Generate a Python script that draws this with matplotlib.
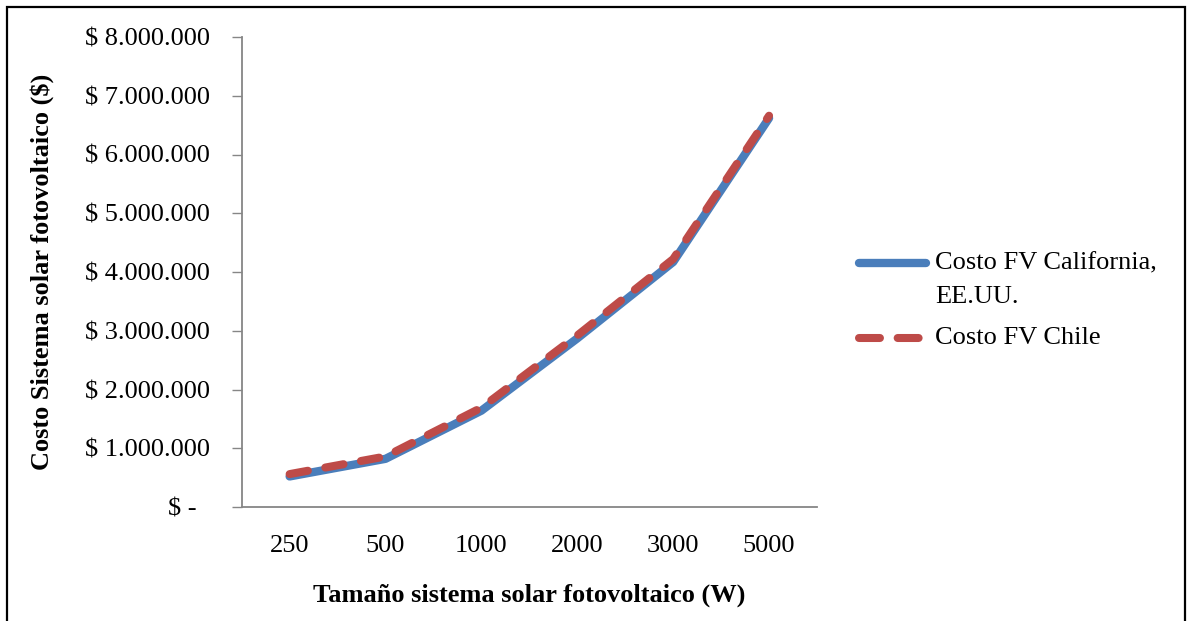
import numpy as np
import matplotlib.pyplot as plt
from matplotlib.lines import Line2D
from matplotlib.patches import Rectangle
from matplotlib.ticker import FuncFormatter

plt.rcParams['font.family'] = ['Liberation Serif', 'DejaVu Serif']

# system sizes (W) and cost of the PV system
sizes = ['250', '500', '1000', '2000', '3000', '5000']
costo_california = [520000, 820000, 1640000, 2870000, 4170000, 6620000]
costo_chile = [560000, 860000, 1690000, 2920000, 4220000, 6660000]
serie_labels = ['Costo FV California,\nEE.UU.', 'Costo FV Chile']

blue = '#4A7EBB'
red = '#BE4B48'
gray = '#868686'
fs = 19

W, H = 1188, 621
fig = plt.figure(figsize=(W / 100, H / 100), dpi=100)
ax = fig.add_axes([241.7 / W, 1 - 507 / H, 575.3 / W, 470 / H])

x = np.arange(len(sizes))
ax.plot(x, costo_california, color=blue, lw=6, solid_capstyle='round',
        solid_joinstyle='round')
ax.plot(x, costo_chile, color=red, lw=5.8, dashes=(2.3, 2.2),
        dash_capstyle='round', dash_joinstyle='round')

ax.set_xlim(-0.5, len(sizes) - 0.5)
ax.set_ylim(0, 8000000)
ax.set_yticks(np.arange(0, 8000001, 1000000))
ax.set_xticks(x)
ax.set_xticklabels(sizes)


def pesos(v, pos):
    if v == 0:
        return '$ -  '
    return '$ ' + f'{int(v):,}'.replace(',', '.')


ax.yaxis.set_major_formatter(FuncFormatter(pesos))
ax.tick_params(axis='y', direction='out', length=7, width=1, color=gray,
               labelsize=fs, pad=16)
ax.tick_params(axis='x', length=0, labelsize=fs, pad=20)

for s in ['top', 'right']:
    ax.spines[s].set_visible(False)
for s in ['left', 'bottom']:
    ax.spines[s].set_color(gray)
    ax.spines[s].set_linewidth(1.3)

ax.set_xlabel('Tamaño sistema solar fotovoltaico (W)', fontsize=fs,
              fontweight='bold')
ax.xaxis.set_label_coords(0.5, -0.187)
ax.xaxis.label.set_va('center')
ax.set_ylabel('Costo Sistema solar fotovoltaico ($)', fontsize=fs,
              fontweight='bold')
ax.yaxis.set_label_coords(-0.347, 0.5)
ax.yaxis.label.set_va('center')

# legend to the right of the plot
def fx(px):
    return px / W


def fy(py):
    return 1 - py / H


fig.add_artist(Line2D([fx(859), fx(926)], [fy(263), fy(263)], color=blue,
                      lw=6, solid_capstyle='round'))
fig.add_artist(Line2D([fx(859), fx(919)], [fy(338), fy(338)], color=red,
                      lw=5.8, dashes=(2.6, 2.2), dash_capstyle='round'))
first, second = serie_labels[0].split('\n')
fig.text(fx(935), fy(263), first, fontsize=fs, va='center')
fig.text(fx(935), fy(297), second, fontsize=fs, va='center')
fig.text(fx(935), fy(338), serie_labels[1], fontsize=fs, va='center')

# outer frame
fig.add_artist(Rectangle((fx(7), -0.05), fx(1185) - fx(7), fy(7) + 0.05,
                         transform=fig.transFigure, fill=False,
                         edgecolor='black', lw=1.6, clip_on=False))

fig.savefig('out.png', dpi=100)
